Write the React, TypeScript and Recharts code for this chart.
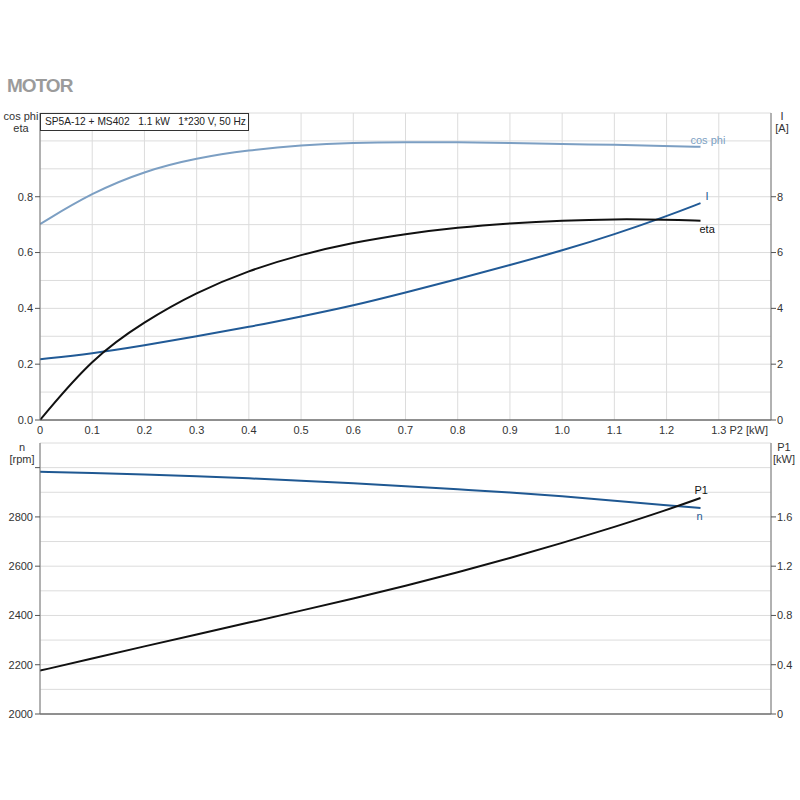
import React from 'react';
import { LineChart, Line, XAxis, YAxis, CartesianGrid } from 'recharts';

// ---- data ----
const p2Top = [0, 0.1, 0.2, 0.3, 0.4, 0.5, 0.6, 0.7, 0.8, 0.9, 1.0, 1.1, 1.2, 1.265];
const cosPhi = [0.702, 0.815, 0.892, 0.939, 0.967, 0.985, 0.994, 0.996, 0.995, 0.993, 0.989, 0.986, 0.982, 0.979];
const eta = [0, 0.222, 0.353, 0.458, 0.536, 0.593, 0.636, 0.667, 0.69, 0.705, 0.715, 0.72, 0.718, 0.714];
const current = [2.18, 2.38, 2.67, 3.0, 3.33, 3.71, 4.1, 4.57, 5.05, 5.55, 6.07, 6.65, 7.3, 7.77];

const p2Bottom = [0, 0.1, 0.2, 0.3, 0.4, 0.5, 0.6, 0.7, 0.8, 0.9, 1.0, 1.1, 1.2, 1.265];
const speed = [2983, 2978, 2972, 2965, 2957, 2947, 2937, 2925, 2912, 2900, 2884, 2866, 2847, 2836];
const p1 = [0.352, 0.451, 0.549, 0.646, 0.742, 0.839, 0.937, 1.040, 1.150, 1.266, 1.388, 1.518, 1.656, 1.754];

const xTicks = [0, 0.1, 0.2, 0.3, 0.4, 0.5, 0.6, 0.7, 0.8, 0.9, 1.0, 1.1, 1.2, 1.3, 1.4];
const xTickLabels = ['0', '0.1', '0.2', '0.3', '0.4', '0.5', '0.6', '0.7', '0.8', '0.9', '1.0', '1.1', '1.2', '1.3', 'P2 [kW]'];
const cosTicks = [0, 0.1, 0.2, 0.3, 0.4, 0.5, 0.6, 0.7, 0.8, 0.9, 1.0, 1.1];
const cosLabels: Record<string, string> = { '0': '0.0', '0.2': '0.2', '0.4': '0.4', '0.6': '0.6', '0.8': '0.8' };
const iTicks = [0, 2, 4, 6, 8];
const nTicks = [2000, 2100, 2200, 2300, 2400, 2500, 2600, 2700, 2800, 2900, 3000, 3100];
const nLabels: Record<string, string> = { '2000': '2000', '2200': '2200', '2400': '2400', '2600': '2600', '2800': '2800', '3000': '' };
const p1Ticks = [0, 0.4, 0.8, 1.2, 1.6];

const topRows = p2Top.map((x, i) => ({ x, cos: cosPhi[i], eta: eta[i], I: current[i] }));
const bottomRows = p2Bottom.map((x, i) => ({ x, n: speed[i], P1: p1[i] }));

const FONT = '"Liberation Sans", Arial, sans-serif';
const TXT = '#333';
const C_COS = '#7c9fc3';
const C_I = '#215a96';
const C_N = '#1f5892';
const C_BLK = '#111';

const XTick = (props: any) => {
  const { x, y, index } = props;
  const label = xTickLabels[index] ?? '';
  const isUnit = label === 'P2 [kW]';
  return (
    <text x={isUnit ? x - 3 : x} y={y} dy="0.71em" textAnchor={isUnit ? 'end' : 'middle'} fontSize={11} fontFamily={FONT} fill={TXT}>
      {label}
    </text>
  );
};

const LeftTick = (labels: Record<string, string>) => (props: any) => {
  const { x, y, payload } = props;
  const key = String(payload.value);
  if (!(key in labels)) return <g />;
  return (
    <g>
      <line x1={x + 2} x2={x + 7} y1={y} y2={y} stroke="#555" />
      <text x={x} y={y} dy="0.355em" textAnchor="end" fontSize={11} fontFamily={FONT} fill={TXT}>
        {labels[key]}
      </text>
    </g>
  );
};

const RightTick = (fmt: (v: number) => string) => (props: any) => {
  const { x, y, payload } = props;
  return (
    <g>
      <line x1={x - 6} x2={x - 1} y1={y} y2={y} stroke="#555" />
      <text x={x} y={y} dy="0.355em" textAnchor="start" fontSize={11} fontFamily={FONT} fill={TXT}>
        {fmt(payload.value)}
      </text>
    </g>
  );
};

const endLabel = (text: string, color: string, dx: number, dy: number, count: number) => (props: any) => {
  const { x, y, index } = props;
  if (index !== count - 1) return <g key={`l${index}`} />;
  return (
    <text key={`l${index}`} x={x + dx} y={y + dy} fontSize={11} fontFamily={FONT} fill={color}>
      {text}
    </text>
  );
};

const abs = (l: number, t: number, extra: any = {}) => ({ position: 'absolute' as const, left: l, top: t, ...extra });

export default function App() {
  return (
    <div style={{ position: 'absolute', left: 0, top: 0, width: 800, height: 800, background: '#fff', fontFamily: FONT }}>
      <div style={abs(7, 75, { fontSize: 19, fontWeight: 'bold', color: '#9b9b9b', letterSpacing: -1 })}>MOTOR</div>

      <div style={abs(0, 100)}>
        <LineChart width={800} height={350} data={topRows} margin={{ top: 13, right: 0, bottom: 0, left: 0 }}>
          <CartesianGrid stroke="#dcdcdc" yAxisId="l" />
          <XAxis dataKey="x" type="number" domain={[0, 1.4]} ticks={xTicks} interval={0} tick={XTick} tickLine={false} tickSize={4} tickMargin={2} height={30} axisLine={{ stroke: '#333' }} allowDataOverflow />
          <YAxis yAxisId="l" type="number" domain={[0, 1.1]} ticks={cosTicks} interval={0} width={40} tickSize={5} tickMargin={2} tickLine={false} axisLine={{ stroke: '#777' }} tick={LeftTick(cosLabels)} allowDataOverflow />
          <YAxis yAxisId="r" orientation="right" type="number" domain={[0, 11]} ticks={iTicks} interval={0} width={29} tickSize={5} tickMargin={1} tickLine={false} axisLine={{ stroke: '#777' }} tick={RightTick((v) => String(v))} allowDataOverflow />
          <Line yAxisId="l" dataKey="cos" type="basis" stroke={C_COS} strokeWidth={2} dot={false} isAnimationActive={false} label={endLabel('cos phi', C_COS, -10, -3, topRows.length)} />
          <Line yAxisId="r" dataKey="I" type="basis" stroke={C_I} strokeWidth={2} dot={false} isAnimationActive={false} label={endLabel('I', C_I, 5, -3, topRows.length)} />
          <Line yAxisId="l" dataKey="eta" type="basis" stroke={C_BLK} strokeWidth={2} dot={false} isAnimationActive={false} label={endLabel('eta', C_BLK, -1, 12, topRows.length)} />
        </LineChart>
      </div>

      <div style={abs(0, 433)}>
        <LineChart width={800} height={290} data={bottomRows} margin={{ top: 10, right: 0, bottom: 0, left: 0 }}>
          <CartesianGrid stroke="#dcdcdc" yAxisId="l" />
          <XAxis dataKey="x" type="number" domain={[0, 1.4]} ticks={xTicks} interval={0} tick={false} tickLine={false} height={9} axisLine={{ stroke: '#333' }} allowDataOverflow />
          <YAxis yAxisId="l" type="number" domain={[2000, 3100]} ticks={nTicks} interval={0} width={40} tickSize={5} tickMargin={2} tickLine={false} axisLine={{ stroke: '#777' }} tick={LeftTick(nLabels)} allowDataOverflow />
          <YAxis yAxisId="r" orientation="right" type="number" domain={[0, 2.2]} ticks={p1Ticks} interval={0} width={29} tickSize={5} tickMargin={1} tickLine={false} axisLine={{ stroke: '#777' }} tick={RightTick((v) => String(v))} allowDataOverflow />
          <Line yAxisId="l" dataKey="n" type="basis" stroke={C_N} strokeWidth={2} dot={false} isAnimationActive={false} label={endLabel('n', C_N, -4, 12, bottomRows.length)} />
          <Line yAxisId="r" dataKey="P1" type="basis" stroke={C_BLK} strokeWidth={2} dot={false} isAnimationActive={false} label={endLabel('P1', C_BLK, -6, -4, bottomRows.length)} />
        </LineChart>
      </div>

      {/* axis titles */}
      <div style={abs(0, 110, { width: 42, textAlign: 'center', fontSize: 11, lineHeight: '12px', color: TXT })}>cos phi<br />eta</div>
      <div style={abs(771, 110, { width: 22, textAlign: 'center', fontSize: 11, lineHeight: '12px', color: TXT })}>I<br />[A]</div>
      <div style={abs(0, 441, { width: 44, textAlign: 'center', fontSize: 11, lineHeight: '12px', color: TXT })}>n<br />[rpm]</div>
      <div style={abs(771, 441, { width: 26, textAlign: 'center', fontSize: 11, lineHeight: '12px', color: TXT })}>P1<br />[kW]</div>

      {/* info box */}
      <div style={abs(40, 113, { width: 203, height: 16, border: '1px solid #333', background: '#fff', fontSize: 10.2, lineHeight: '16px', color: '#222', paddingLeft: 4, boxSizing: 'content-box', whiteSpace: 'pre', overflow: 'hidden' })}>
        {'SP5A-12 + MS402   1.1 kW   1*230 V, 50 Hz'}
      </div>
    </div>
  );
}
